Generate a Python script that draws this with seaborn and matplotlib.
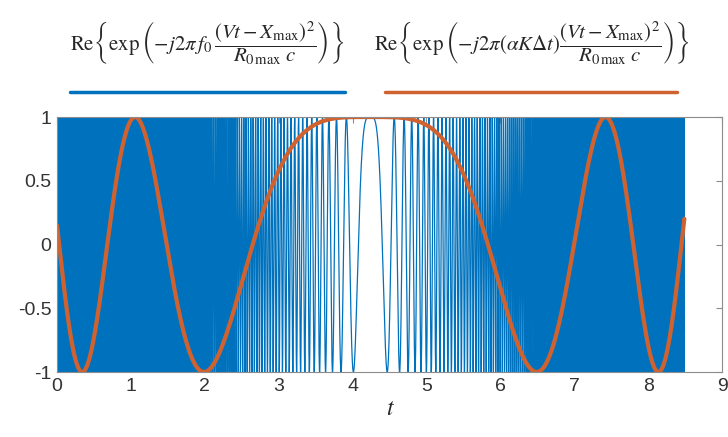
import numpy as np
import pandas as pd
import seaborn as sns
import matplotlib.pyplot as plt

# values
t_start = 0.0
t_end = 8.49          # both curves stop here
t_center = 4.24       # centre of symmetry (flat top of orange, gap of blue)
rate_fast = 60.0      # blue chirp rate (rad / t^2)
rate_slow = 0.62      # orange chirp rate (rad / t^2)
n_samples = 24000

x_ticks = [0, 1, 2, 3, 4, 5, 6, 7, 8, 9]
y_ticks = [-1, -0.5, 0, 0.5, 1]
y_tick_labels = ['-1', '-0.5', '0', '0.5', '1']

label_fast = (r'$\mathrm{Re}\left\{\exp\left(-j2\pi\, f_0\,'
              r'\dfrac{(Vt-X_{\mathrm{max}})^2}{R_{0\,\mathrm{max}}\;c}\right)\right\}$')
label_slow = (r'$\mathrm{Re}\left\{\exp\left(-j2\pi(\alpha K\Delta t)'
              r'\dfrac{(Vt-X_{\mathrm{max}})^2}{R_{0\,\mathrm{max}}\;c}\right)\right\}$')

blue = '#0072BD'
orange = '#D0622F'

t = np.linspace(t_start, t_end, n_samples)
df = pd.DataFrame({
    't': t,
    'fast': np.cos(rate_fast * (t - t_center) ** 2),
    'slow': np.cos(rate_slow * (t - t_center) ** 2),
})

sns.set_style('white')
plt.rcParams['font.family'] = ['Liberation Sans', 'DejaVu Sans']
plt.rcParams['mathtext.fontset'] = 'stix'

fig = plt.figure(figsize=(7.28, 4.37), dpi=100)
ax = fig.add_axes([0.0783, 0.1487, 0.9135, 0.5835])

sns.lineplot(data=df, x='t', y='fast', ax=ax, color=blue, linewidth=0.9,
             estimator=None, sort=False)
sns.lineplot(data=df, x='t', y='slow', ax=ax, color=orange, linewidth=3,
             estimator=None, sort=False)

ax.set_xlim(0, 9)
ax.set_ylim(-1, 1)
ax.set_xticks(x_ticks)
ax.set_yticks(y_ticks)
ax.set_yticklabels(y_tick_labels)
ax.tick_params(direction='in', length=4, color='#8c8c8c', labelsize=14,
               labelcolor='#333333', top=True, right=True, pad=4)
ax.set_ylabel('')
ax.set_xlabel('t', fontsize=17, fontstyle='italic', family='STIXGeneral',
              color='#262626', labelpad=2)
for s in ax.spines.values():
    s.set_color('#8c8c8c')
    s.set_linewidth(0.8)

# formulas with coloured keys above the axes
fig.text(0.285, 0.902, label_fast, ha='center', va='center', fontsize=15)
fig.text(0.731, 0.902, label_slow, ha='center', va='center', fontsize=15)
fig.add_artist(plt.Line2D([0.096, 0.474], [0.789, 0.789], color=blue, linewidth=2.5))
fig.add_artist(plt.Line2D([0.529, 0.930], [0.789, 0.789], color=orange, linewidth=2.5))

fig.savefig('out.png', dpi=100)
plt.close(fig)
